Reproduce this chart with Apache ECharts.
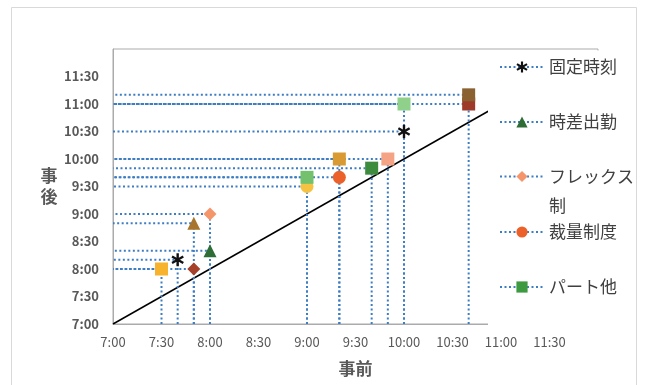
<!DOCTYPE html>
<html><head><meta charset="utf-8">
<script src="https://cdn.jsdelivr.net/npm/echarts@6/dist/echarts.min.js"></script>
<style>html,body{margin:0;padding:0;background:#fff}#c{width:649px;height:385px}</style>
</head><body><div id="c"></div>
<script>
// ---- data ----
const seriesNames = ['固定時刻', '時差出勤', 'フレックス制', '裁量制度', 'パート他'];
const tickLabels = ['7:00', '7:30', '8:00', '8:30', '9:00', '9:30', '10:00', '10:30', '11:00', '11:30'];
const axisTitleX = '事前';
const axisTitleY = '事後';

const fixedBefore = ['7:40', '10:00'];
const fixedAfter = ['8:10', '10:30'];
const staggerBefore = ['8:00', '7:50'];
const staggerAfter = ['8:20', '8:50'];
const flexBefore = ['8:00', '7:50'];
const flexAfter = ['9:00', '8:00'];
const discBefore = ['9:20', '9:00'];
const discAfter = ['9:40', '9:30'];
const partBefore = ['7:30', '9:00', '9:20', '9:40', '9:50', '10:00', '10:40', '10:40'];
const partAfter = ['8:00', '9:40', '10:00', '9:50', '10:00', '11:00', '11:00', '11:10'];
const diagonal = ['7:00', '11:30'];

// ---- styles ----
const fixedColors = ['#111111', '#111111'];
const staggerColors = ['#2e6d36', '#a8752f'];
const flexColors = ['#f4956a', '#a5402a'];
const discColors = ['#ec6129', '#f5c242'];
const partColors = ['#f7b32b', '#74c16d', '#d99a34', '#3d8c3d', '#f4a385', '#8fd08a', '#9e3a2a', '#8a6232'];
const legendColors = ['#111111', '#2e6d36', '#f4956a', '#ec6129', '#3d9a40'];

const FONT = "'Noto Sans CJK JP', 'Noto Sans', sans-serif";
const DOT = '#3c7dc4';
const ASTER = 'path://M-1.1,-6L1.1,-6L1.1,6L-1.1,6Z' +
  'M-5.746,-2.047L-4.646,-3.953L5.746,2.047L4.646,3.953Z' +
  'M4.646,-3.953L5.746,-2.047L-4.646,3.953L-5.746,2.047Z';

function toH(s) { const p = s.split(':'); return +p[0] + (+p[1]) / 60; }
const AX0 = toH(tickLabels[0]);

function buildData(before, after, colors) {
  const out = [];
  for (let i = 0; i < before.length; i++) {
    const x = toH(before[i]), y = toH(after[i]);
    out.push({ value: [x, AX0], symbol: 'none' });
    out.push({ value: [x, y], itemStyle: { color: colors[i] } });
    out.push({ value: [AX0, y], symbol: 'none' });
    out.push({ value: ['-', '-'], symbol: 'none' });
  }
  return out;
}

const groups = [
  [fixedBefore, fixedAfter, fixedColors, ASTER],
  [staggerBefore, staggerAfter, staggerColors, 'triangle'],
  [flexBefore, flexAfter, flexColors, 'diamond'],
  [discBefore, discAfter, discColors, 'circle'],
  [partBefore, partAfter, partColors, 'rect']
];

const series = [{
  type: 'line', name: 'diag', silent: true, symbol: 'none',
  data: [[toH(diagonal[0]), toH(diagonal[0])], [toH(diagonal[1]), toH(diagonal[1])]],
  lineStyle: { color: '#000', width: 1.5 }, z: 2
}];
groups.forEach((g, i) => {
  series.push({
    type: 'line', name: seriesNames[i], silent: true,
    symbol: g[3], symbolSize: 13, symbolKeepAspect: true, showSymbol: true,
    connectNulls: false,
    itemStyle: { color: legendColors[i] },
    lineStyle: { color: DOT, width: 2, type: [2, 2.5] },
    data: buildData(g[0], g[1], g[2]), z: 3
  });
});

const legendBase = {
  orient: 'vertical', left: 499, padding: 0, itemWidth: 44, itemHeight: 14,
  selectedMode: false, z: 10,
  textStyle: { fontSize: 17, color: '#404040', fontFamily: FONT, lineHeight: 22 }
};

const chart = echarts.init(document.getElementById('c'), null, { renderer: 'canvas' });
chart.setOption({
  animation: false,
  backgroundColor: '#fff',
  textStyle: { fontFamily: FONT },
  grid: { left: 113, top: 49, right: 51, bottom: 61, show: true, borderColor: '#ababab', borderWidth: 1 },
  xAxis: {
    type: 'value', min: 7, max: 12, interval: 0.5,
    axisLine: { show: true, lineStyle: { color: '#ababab', width: 1 } },
    axisTick: { show: false }, splitLine: { show: false },
    axisLabel: { fontSize: 13, color: '#595959', margin: 12, fontFamily: FONT,
      formatter: (v, idx) => tickLabels[idx] || '' },
    name: axisTitleX, nameLocation: 'middle', nameGap: 36,
    nameTextStyle: { fontSize: 17, fontWeight: 'bold', color: '#595959', fontFamily: FONT }
  },
  yAxis: {
    type: 'value', min: 7, max: 12, interval: 0.5,
    axisLine: { show: true, lineStyle: { color: '#ababab', width: 1 } },
    axisTick: { show: false }, splitLine: { show: false },
    axisLabel: { fontSize: 13, fontWeight: 'bold', color: '#595959', margin: 14, fontFamily: FONT,
      formatter: (v, idx) => tickLabels[idx] || '' },
    name: axisTitleY.split('').join('\n'), nameLocation: 'middle', nameGap: 64, nameRotate: 0,
    nameTextStyle: { fontSize: 17, fontWeight: 'bold', color: '#595959', fontFamily: FONT,
      lineHeight: 21, align: 'center', verticalAlign: 'middle' }
  },
  legend: [
    Object.assign({}, legendBase, { top: 56, data: [seriesNames[0]] }),
    Object.assign({}, legendBase, { top: 111, data: [seriesNames[1]] }),
    Object.assign({}, legendBase, { top: 133, data: [seriesNames[2]],
      formatter: n => ' \n' + n.slice(0, 5) + '\n' + n.slice(5),
      textStyle: { fontSize: 17, color: '#404040', fontFamily: FONT, lineHeight: 29 } }),
    Object.assign({}, legendBase, { top: 221, data: [seriesNames[3]] }),
    Object.assign({}, legendBase, { top: 276, data: [seriesNames[4]] })
  ],
  graphic: [
    { type: 'rect', silent: true, z: 1,
      shape: { x: 11.5, y: 7.5, width: 625, height: 420 },
      style: { fill: 'none', stroke: '#d9d9d9', lineWidth: 1 } },
    { type: 'rect', silent: true, z: 5,
      shape: { x: 488, y: 50.5, width: 146, height: 281.5 },
      style: { fill: '#ffffff' } }
  ],
  series: series
});
</script>
</body></html>
